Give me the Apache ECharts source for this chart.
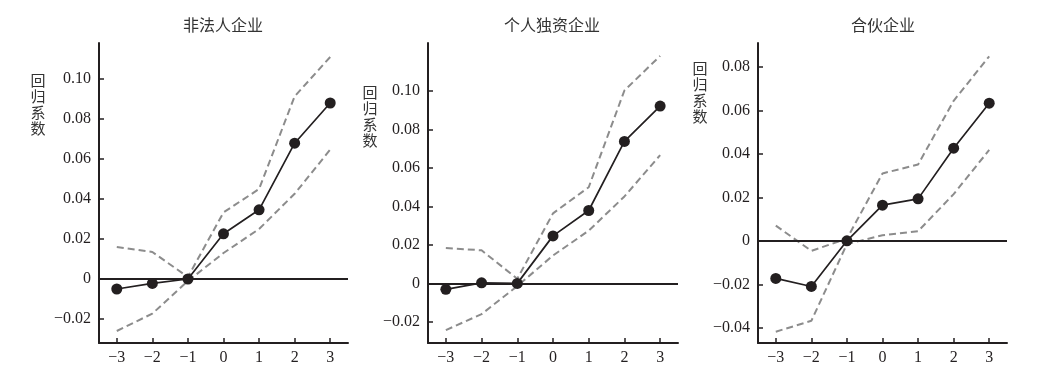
<!DOCTYPE html>
<html>
<head>
<meta charset="utf-8">
<script src="https://cdn.jsdelivr.net/npm/echarts@6/dist/echarts.min.js"></script>
<style>
html,body{margin:0;padding:0;background:#fff;}
#chart{width:1056px;height:382px;}
</style>
</head>
<body>
<div id="chart"></div>
<script>
// ---- data ----
const periods = [-3, -2, -1, 0, 1, 2, 3];
const panelTitles = ['非法人企业', '个人独资企业', '合伙企业'];
const yName = '回归系数';

const coef1  = [-0.005, -0.0022, 0, 0.0226, 0.0346, 0.0679, 0.088];
const upper1 = [0.016, 0.0135, 0.001, 0.0333, 0.045, 0.0913, 0.111];
const lower1 = [-0.026, -0.0173, -0.001, 0.013, 0.025, 0.0426, 0.0647];

const coef2  = [-0.0031, 0.0003, 0, 0.0247, 0.0379, 0.0738, 0.0922];
const upper2 = [0.0184, 0.0172, 0.0024, 0.0364, 0.050, 0.1003, 0.1183];
const lower2 = [-0.0243, -0.016, -0.0014, 0.0145, 0.0274, 0.0452, 0.0667];

const coef3  = [-0.0173, -0.021, 0, 0.0164, 0.0193, 0.0426, 0.0633];
const upper3 = [0.007, -0.0046, 0.001, 0.031, 0.0351, 0.0644, 0.0849];
const lower3 = [-0.0418, -0.0368, -0.0015, 0.0026, 0.0044, 0.0215, 0.0418];

const yTicks1 = [-0.02, 0, 0.02, 0.04, 0.06, 0.08, 0.10];
const yTicks2 = [-0.02, 0, 0.02, 0.04, 0.06, 0.08, 0.10];
const yTicks3 = [-0.04, -0.02, 0, 0.02, 0.04, 0.06, 0.08];
const yRanges = [[-0.032, 0.118], [-0.031, 0.125], [-0.047, 0.091]];

// ---- layout / style ----
const grids = [
  {left: 99, top: 43, width: 249, height: 300},
  {left: 428, top: 43, width: 250, height: 300},
  {left: 758, top: 43, width: 249, height: 300}
];
const titleCenters = [223, 552, 883];
const nameX = [38, 370, 700];
const INK = '#231f20';
const GRAY = '#8c8c8c';
const numFont = 'Liberation Serif';
const cjkFont = 'Noto Sans CJK SC';

function fmt(v) {
  if (Math.abs(v) < 1e-9) return '0';
  const s = Number.isInteger(v) ? String(Math.abs(v)) : Math.abs(v).toFixed(2);
  return (v < 0 ? '\u2212' : '') + s;
}
const pairs = (ys) => periods.map((x, i) => [x, ys[i]]);

const panels = [
  {coef: coef1, upper: upper1, lower: lower1, ticks: yTicks1},
  {coef: coef2, upper: upper2, lower: lower2, ticks: yTicks2},
  {coef: coef3, upper: upper3, lower: lower3, ticks: yTicks3}
];

const option = {
  animation: false,
  backgroundColor: '#fff',
  title: [],
  grid: grids,
  xAxis: [],
  yAxis: [],
  series: []
};

panels.forEach((p, i) => {
  const g = grids[i];
  option.title.push({
    text: panelTitles[i], left: titleCenters[i], top: 17, textAlign: 'center', padding: 0,
    textStyle: {fontFamily: cjkFont, fontSize: 16, fontWeight: 'normal', color: '#333'}
  });
  // y-axis name, vertical
  const topTickY = g.top + (yRanges[i][1] - p.ticks[p.ticks.length - 1]) / (yRanges[i][1] - yRanges[i][0]) * g.height;
  option.title.push({
    text: yName.split('').join('\n'), left: nameX[i], top: topTickY - 7, textAlign: 'center', padding: 0,
    textStyle: {fontFamily: cjkFont, fontSize: 15, fontWeight: 'normal', color: '#333', lineHeight: 16.2}
  });
  option.xAxis.push({
    gridIndex: i, type: 'value', min: -3.5, max: 3.5,
    axisLine: {show: true, onZero: false, lineStyle: {color: INK, width: 2}},
    axisTick: {show: true, inside: true, length: 5, customValues: periods, lineStyle: {color: INK, width: 1.5}},
    axisLabel: {customValues: periods, formatter: fmt, margin: 7,
      fontFamily: numFont, fontSize: 16, color: INK},
    splitLine: {show: false}
  });
  option.yAxis.push({
    gridIndex: i, type: 'value', min: yRanges[i][0], max: yRanges[i][1],
    axisLine: {show: true, onZero: false, lineStyle: {color: INK, width: 2}},
    axisTick: {show: true, inside: true, length: 5, customValues: p.ticks, lineStyle: {color: INK, width: 1.5}},
    axisLabel: {customValues: p.ticks, formatter: fmt, margin: 8,
      fontFamily: numFont, fontSize: 16, color: INK},
    splitLine: {show: false}
  });
  ['upper', 'lower'].forEach((k) => {
    option.series.push({
      type: 'line', xAxisIndex: i, yAxisIndex: i, data: pairs(p[k]),
      symbol: 'none', z: 2,
      lineStyle: {color: GRAY, width: 2, type: [7, 4]}
    });
  });
  option.series.push({
    type: 'line', xAxisIndex: i, yAxisIndex: i, data: pairs(p.coef),
    symbol: 'circle', symbolSize: 11, z: 5,
    itemStyle: {color: INK},
    lineStyle: {color: INK, width: 1.7},
    markLine: {
      silent: true, symbol: ['none', 'none'], label: {show: false},
      lineStyle: {color: INK, width: 2, type: 'solid'},
      data: [{yAxis: 0}]
    }
  });
});

const chart = echarts.init(document.getElementById('chart'), null, {renderer: 'canvas'});
chart.setOption(option);
</script>
</body>
</html>
